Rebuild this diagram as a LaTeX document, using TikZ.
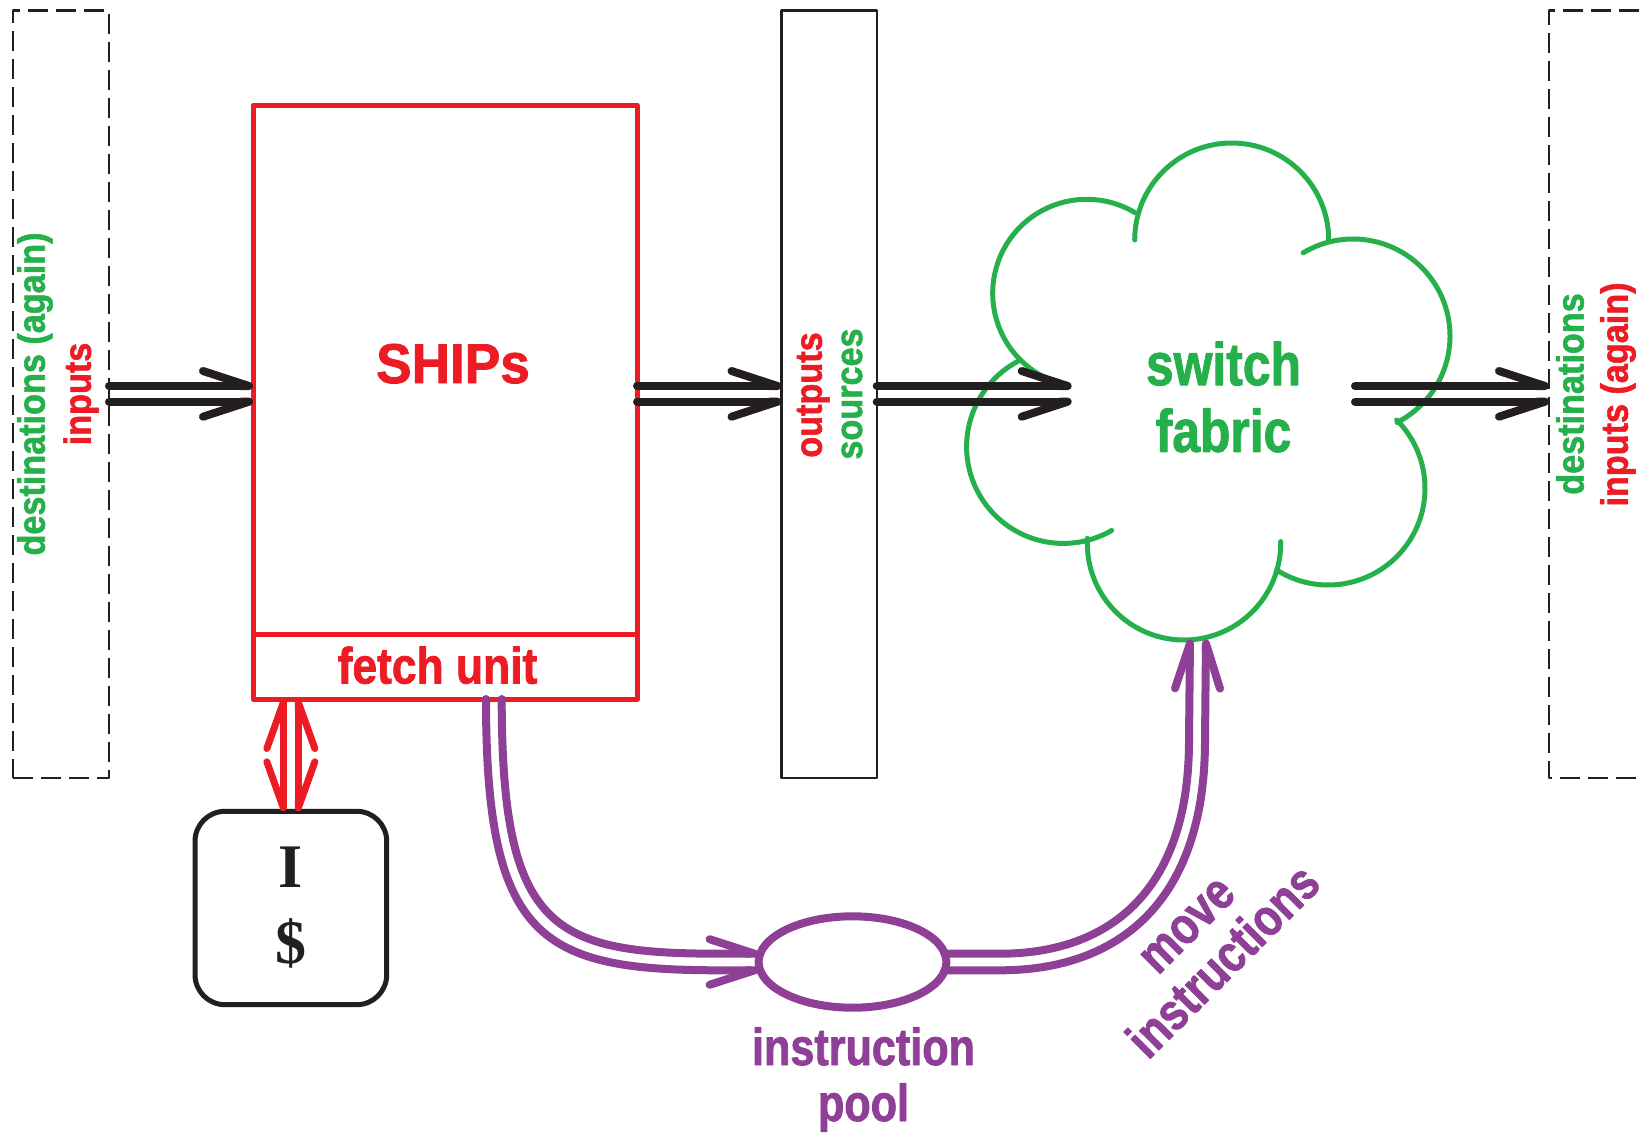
\documentclass[tikz,border=0pt]{standalone}
\usepackage{fontspec}
\usepackage{graphicx}
\setmainfont{Liberation Sans}
\newfontfamily\sidefont{Liberation Sans}[FakeStretch=0.9,FakeBold=1.5]
\newfontfamily\shipfont{Liberation Sans}[FakeStretch=0.95,FakeBold=1.5]
\newfontfamily\fetchfont{Liberation Sans}[FakeStretch=0.87,FakeBold=1.5]
\newfontfamily\condfont{Liberation Sans}[FakeStretch=0.83,FakeBold=1.5]
\newfontfamily\serifbold{Liberation Serif}
\usetikzlibrary{arrows.meta,shapes.geometric,calc}

\definecolor{shipred}{RGB}{237,28,36}
\definecolor{fabgreen}{RGB}{38,176,75}
\definecolor{poolpurple}{RGB}{142,63,150}
\definecolor{inkblack}{RGB}{35,31,32}

\begin{document}
\begin{tikzpicture}[x=1pt,y=-1pt,line join=round,
  dashline/.style={draw=inkblack,line width=2.7pt,dash pattern=on 20pt off 8pt},
  plainbox/.style={rectangle,inner sep=0pt,outer sep=0pt},
  blackarrow/.style={draw=inkblack,line width=8pt,line cap=round},
  purplearrow/.style={draw=poolpurple,line width=8pt,line cap=round},
  redarrow/.style={draw=shipred,line width=7pt,line cap=round},
  bkup/.style={-{Straight Barb[left,round,length=46pt,width=30pt]}},
  bkdown/.style={-{Straight Barb[right,round,length=46pt,width=30pt]}},
  ppleft/.style={-{Straight Barb[left,round,length=45pt,width=29pt]}},
  ppright/.style={-{Straight Barb[right,round,length=45pt,width=29pt]}},
  sidelabel/.style={inner sep=0pt,rotate=90,font=\sidefont\bfseries\fontsize{38}{38}\selectfont},
  cloudline/.style={draw=fabgreen,line width=5pt,line cap=round},
]
\useasboundingbox (0,0) rectangle (1639,1133);

% ---- left frame: destinations / inputs ----
\node[plainbox,dashline,minimum width=96pt,minimum height=767.3pt] (ldash) at (61,394.35) {};
\node[sidelabel,text=fabgreen] (destL) at (35,394) {destinations (again)};
\node[sidelabel,text=shipred] (inL) at (81,394) {inputs};

% ---- SHIPs block with fetch unit ----
\node[plainbox,draw=shipred,line width=5pt,minimum width=384pt,minimum height=529pt] (ships) at (445,369.5) {};
\node[plainbox,draw=shipred,line width=5pt,minimum width=384pt,minimum height=65pt] (fetch) at (445,666.5) {};
\node[anchor=base,inner sep=0pt,text=shipred,font=\shipfont\bfseries\fontsize{56}{56}\selectfont] (shipstext) at (453,383) {SHIPs};
\node[anchor=base,inner sep=0pt,text=shipred,font=\fetchfont\bfseries\fontsize{51}{51}\selectfont] (fetchtext) at (437.5,683.5) {fetch unit};

% ---- instruction cache ----
\node[plainbox,draw=inkblack,line width=5pt,rounded corners=30pt,minimum width=191.7pt,minimum height=193.4pt,
      align=center,text=inkblack,font=\serifbold\bfseries\fontsize{62}{76}\selectfont] (icache) at (290.85,908) {I\\\$};

% ---- output register ----
\node[plainbox,draw=inkblack,line width=2.4pt,minimum width=95.2pt,minimum height=767.5pt] (outreg) at (829.1,394.25) {};
\node[sidelabel,text=shipred] (outtext) at (813.3,395) {outputs};
\node[sidelabel,text=fabgreen] (srctext) at (852,394) {sources};

% ---- right frame (continues past the edge) ----
\draw[dashline] (1639,10.7) -- (1549,10.7) -- (1549,778) -- (1639,778);
\coordinate (rdash) at (1549,393.85);
\node[sidelabel,text=fabgreen] (destR) at (1570,394) {destinations};
\node[sidelabel,text=shipred] (inR) at (1618,394.5) {inputs (again)};

% ---- switch fabric cloud ----
\coordinate (lobeA) at (1231.7,240);
\coordinate (lobeB) at (1086.7,293.3);
\coordinate (lobeC) at (1063.3,446.7);
\coordinate (lobeD) at (1184,543.3);
\coordinate (lobeE) at (1328.3,488.3);
\coordinate (lobeF) at (1353,336);
\draw[cloudline] ($(lobeA)+(-180:97)$) arc[start angle=-180,end angle=0,radius=97];
\draw[cloudline] ($(lobeB)+(-59:94)$) arc[start angle=-59,end angle=-241,radius=94];
\draw[cloudline] ($(lobeC)+(-118:96.7)$) arc[start angle=-118,end angle=-300,radius=96.7];
\draw[cloudline] ($(lobeD)+(-177:96.7)$) arc[start angle=-177,end angle=-361,radius=96.7];
\draw[cloudline] ($(lobeE)+(-237.7:96.7)$) arc[start angle=-237.7,end angle=-405,radius=96.7];
\draw[cloudline] ($(lobeF)+(-121:97)$) arc[start angle=-121,end angle=63,radius=97];
\node[inner sep=0pt,align=center,text=fabgreen,font=\condfont\bfseries\fontsize{60}{66.7}\selectfont] (fabtext) at (1223.5,397) {switch\\fabric};
\coordinate (cloudin) at (1071.7,393.85);
\coordinate (cloudout) at (1355,393.85);
\coordinate (cloudbot) at (1198,639.5);

% ---- instruction pool ----
\node[ellipse,draw=poolpurple,line width=8pt,minimum width=187.8pt,minimum height=91.4pt,inner sep=0pt,outer sep=0pt] (pool) at (852.5,962) {};
\node[inner sep=0pt,align=center,text=poolpurple,font=\condfont\bfseries\fontsize{52}{56}\selectfont] (pooltext) at (863.5,1079.6) {instruction\\pool};
\node[inner sep=0pt,align=center,rotate=45,text=poolpurple,font=\condfont\bfseries\fontsize{52}{53}\selectfont] (movetext) at (1207,945) {move\\instructions};

% ---- data paths (double arrows) ----
\coordinate (hiY) at (0,386);
\coordinate (loY) at (0,401.7);
\draw[blackarrow,bkup]   (ldash.east |- hiY) -- (ships.west |- hiY);
\draw[blackarrow,bkdown] (ldash.east |- loY) -- (ships.west |- loY);
\draw[blackarrow,bkup]   (ships.east |- hiY) -- (outreg.west |- hiY);
\draw[blackarrow,bkdown] (ships.east |- loY) -- (outreg.west |- loY);
\draw[blackarrow,bkup]   (outreg.east |- hiY) -- (cloudin |- hiY);
\draw[blackarrow,bkdown] (outreg.east |- loY) -- (cloudin |- loY);
\draw[blackarrow,bkup]   (cloudout |- hiY) -- (rdash |- hiY);
\draw[blackarrow,bkdown] (cloudout |- loY) -- (rdash |- loY);

% ---- fetch unit <-> instruction cache ----
\coordinate (rl) at ($(icache.north)+(-7.5,0)$);
\coordinate (rr) at ($(icache.north)+(7.5,0)$);
\draw[redarrow,{Straight Barb[left,round,length=46pt,width=33pt]}-{Straight Barb[right,round,length=46pt,width=33pt]}] (rl |- fetch.south) -- (rl);
\draw[redarrow,{Straight Barb[right,round,length=46pt,width=33pt]}-{Straight Barb[left,round,length=46pt,width=33pt]}] (rr |- fetch.south) -- (rr);

% ---- fetch unit -> instruction pool ----
\coordinate (pl1) at ($(fetch.south)+(41,0)$);
\coordinate (pl2) at ($(fetch.south)+(56.7,0)$);
\coordinate (pin1) at ($(pool.west)+(0,8.3)$);
\coordinate (pin2) at ($(pool.west)+(0,-8.3)$);
\draw[purplearrow,ppright] (pl1) .. controls +(0,241) and +(-180,0) .. ($(pin1)+(-38,0)$) -- (pin1);
\draw[purplearrow,ppleft]  (pl2) .. controls +(0,231) and +(-168,0) .. ($(pin2)+(-38,0)$) -- (pin2);

% ---- instruction pool -> switch fabric ----
\coordinate (pout1) at ($(pool.east)+(-2,-8.3)$);
\coordinate (pout2) at ($(pool.east)+(-2,8.3)$);
\coordinate (ct1) at ($(cloudbot)+(-8,0)$);
\coordinate (ct2) at ($(cloudbot)+(8,0)$);
\draw[purplearrow,ppleft]  (pout1) -- ++(55.6,0) .. controls +(105,0) and +(0,155) .. ($(ct1)+(-1,101)$) -- (ct1);
\draw[purplearrow,ppright] (pout2) -- ++(55.6,0) .. controls +(120,0) and +(0,160) .. ($(ct2)+(-1,101)$) -- (ct2);
\end{tikzpicture}
\end{document}
